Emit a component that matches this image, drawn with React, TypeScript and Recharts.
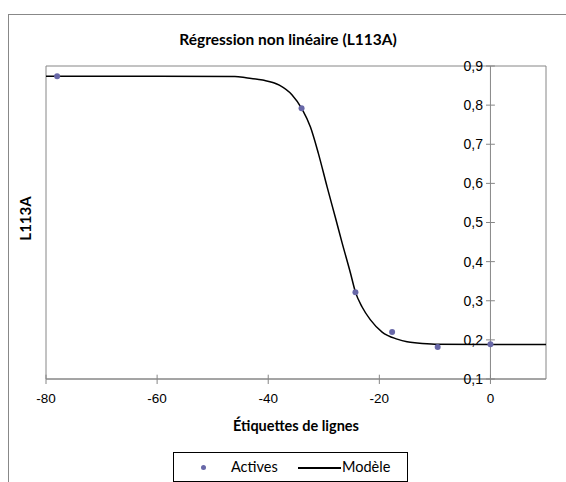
import React from 'react';
import { ComposedChart, XAxis, YAxis, Line, Scatter, ReferenceLine, ReferenceArea } from 'recharts';

const activesX = [-78, -34, -24.3, -17.7, -9.5, 0];
const activesY = [0.874, 0.792, 0.322, 0.22, 0.182, 0.189];

const modelX = [-80, -60, -46, -44, -41, -38, -35.7, -33.9, -32.4, -31, -29.4, -27.9, -26.7, -25.2, -24.3, -23.1, -21.6, -19.5, -16.8, -15, -13.2, -10, 0, 10];
const modelY = [0.874, 0.874, 0.873, 0.87, 0.864, 0.851, 0.826, 0.79, 0.744, 0.678, 0.591, 0.512, 0.448, 0.371, 0.322, 0.284, 0.251, 0.22, 0.202, 0.195, 0.192, 0.189, 0.188, 0.188];

const xTicks = [-80, -60, -40, -20, 0];
const yTicks = [0.1, 0.2, 0.3, 0.4, 0.5, 0.6, 0.7, 0.8, 0.9];

const actives = activesX.map((x, i) => ({ x, y: activesY[i] }));
const model = modelX.map((x, i) => ({ x, y: modelY[i] }));

const AXIS = '#868686';
const DOT = '#6868a8';
const TICK_HALF_X = 0.8; // data units (~4.5px)
const TICK_UP_Y = 0.011;
const fmt = (v: number) => v.toFixed(1).replace('.', ',');

export default function App() {
  return (
    <div style={{ position: 'absolute', left: 0, top: 0, width: 566, height: 482, overflow: 'hidden', background: '#fff' }}>
      <div style={{ position: 'absolute', left: 8, top: 14, width: 800, height: 800, borderTop: '1px solid #888', borderLeft: '1px solid #888' }} />
      <div style={{ position: 'absolute', left: 0, top: 30, width: 576, textAlign: 'center', fontFamily: 'Lato', fontWeight: 700, fontSize: 15.5, lineHeight: '18px', color: '#000' }}>
        Régression non linéaire (L113A)
      </div>
      <div style={{ position: 'absolute', left: 0, top: 0 }}>
        <ComposedChart width={566} height={482} margin={{ top: 66, right: 20, left: 5, bottom: 48 }}>
          <XAxis
            type="number"
            dataKey="x"
            domain={[-80, 10]}
            ticks={xTicks}
            allowDataOverflow
            height={55}
            axisLine={{ stroke: AXIS }}
            tickLine={{ stroke: AXIS }}
            tickSize={5}
            tickMargin={9}
            tick={{ fill: '#000', fontSize: 13.5, fontFamily: 'Liberation Sans' }}
            label={{ value: 'Étiquettes de lignes', position: 'insideBottom', offset: 3, fill: '#000', fontSize: 14.5, fontWeight: 700, fontFamily: 'Lato' }}
          />
          <YAxis
            type="number"
            dataKey="y"
            domain={[0.1, 0.9]}
            ticks={yTicks}
            width={41}
            tick={false}
            axisLine={false}
            tickLine={false}
            label={{ value: 'L113A', angle: -90, position: 'center', dy: -4, fill: '#000', fontSize: 15, fontWeight: 700, fontFamily: 'Lato' }}
          />
          <ReferenceArea x1={-80} x2={10} y1={0.1} y2={0.9} fill="none" stroke={AXIS} strokeWidth={1} />
          <ReferenceLine x={0} stroke={AXIS} strokeWidth={1} />
          {yTicks.map((v) => (
            <ReferenceLine
              key={'y' + v}
              segment={[{ x: -TICK_HALF_X, y: v }, { x: TICK_HALF_X, y: v }]}
              stroke={AXIS}
              label={{ value: fmt(v), position: 'left', offset: 3, fill: '#000', fontSize: 14, fontFamily: 'Liberation Sans' }}
            />
          ))}
          {xTicks.map((v) => (
            <ReferenceLine key={'x' + v} segment={[{ x: v, y: 0.1 }, { x: v, y: 0.1 + TICK_UP_Y }]} stroke={AXIS} />
          ))}
          <Line data={model} dataKey="y" type="monotone" stroke="#000" strokeWidth={1.5} dot={false} isAnimationActive={false} />
          <Scatter
            data={actives}
            dataKey="y"
            fill={DOT}
            isAnimationActive={false}
            shape={(p: any) => <circle cx={p.cx} cy={p.cy} r={3} fill={DOT} />}
          />
        </ComposedChart>
      </div>
      <div style={{ position: 'absolute', left: 173, top: 452, width: 233, height: 28, border: '1px solid #000', fontFamily: 'Lato', fontSize: 14.5, color: '#000' }}>
        <div style={{ position: 'absolute', left: 27, top: 12, width: 5, height: 5, borderRadius: 3, background: DOT }} />
        <div style={{ position: 'absolute', left: 57, top: 5, lineHeight: '18px' }}>Actives</div>
        <div style={{ position: 'absolute', left: 124, top: 14, width: 43, height: 1.5, background: '#000' }} />
        <div style={{ position: 'absolute', left: 168, top: 5, lineHeight: '18px' }}>Modèle</div>
      </div>
    </div>
  );
}
